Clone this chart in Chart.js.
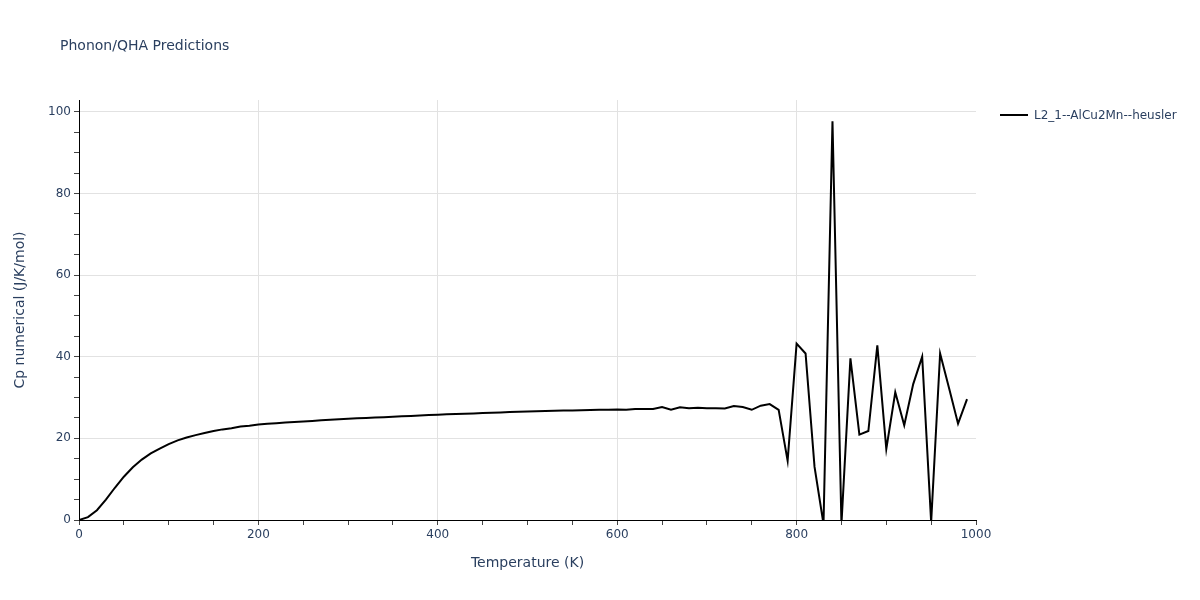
<!DOCTYPE html>
<html>
<head>
<meta charset="utf-8">
<script src="https://cdn.jsdelivr.net/npm/chart.js@4.4.1/dist/chart.umd.min.js"></script>
<style>
  html, body { margin: 0; padding: 0; background: #fff; }
  #wrap { position: relative; width: 1200px; height: 600px; font-family: "DejaVu Sans", Verdana, sans-serif; }
  #title { position: absolute; left: 60px; top: 35px; font-size: 14px; line-height: 20px; color: #2a3f5f; white-space: nowrap; }
  #legend { position: absolute; left: 1000px; top: 106px; height: 18px; display: flex; align-items: center; font-size: 12px; color: #2a3f5f; white-space: nowrap; }
  #legend .swatch { width: 28px; height: 0; border-top: 2px solid #000; margin-right: 6px; }
  canvas { position: absolute; left: 0; top: 0; }
</style>
</head>
<body>
<div id="wrap">
  <canvas id="c" width="1200" height="600"></canvas>
  <div id="title">Phonon/QHA Predictions</div>
  <div id="legend"><div class="swatch"></div><span id="legendText"></span></div>
</div>
<script>
const chartTitle = "Phonon/QHA Predictions";
const seriesName = "L2_1--AlCu2Mn--heusler";
const xAxisTitle = "Temperature (K)";
const yAxisTitle = "Cp numerical (J/K/mol)";

const temperatures = [
  0, 10, 20, 30, 40, 50, 60, 70, 80, 90,
  100, 110, 120, 130, 140, 150, 160, 170, 180, 190,
  200, 210, 220, 230, 240, 250, 260, 270, 280, 290,
  300, 310, 320, 330, 340, 350, 360, 370, 380, 390,
  400, 410, 420, 430, 440, 450, 460, 470, 480, 490,
  500, 510, 520, 530, 540, 550, 560, 570, 580, 590,
  600, 610, 620, 630, 640, 650, 660, 670, 680, 690,
  700, 710, 720, 730, 740, 750, 760, 770, 780, 790,
  800, 810, 820, 830, 840, 850, 860, 870, 880, 890,
  900, 910, 920, 930, 940, 950, 960, 970, 980, 990
];
const cpValues = [
  0, 0.7, 2.4, 5.0, 7.9, 10.6, 12.9, 14.8, 16.3, 17.5,
  18.6, 19.5, 20.2, 20.8, 21.3, 21.8, 22.2, 22.5, 22.9, 23.1,
  23.4, 23.56, 23.71, 23.86, 24.0, 24.14, 24.28, 24.41, 24.54, 24.67,
  24.8, 24.9, 25.0, 25.1, 25.2, 25.3, 25.4, 25.5, 25.6, 25.7,
  25.8, 25.88, 25.96, 26.04, 26.12, 26.2, 26.28, 26.36, 26.44, 26.52,
  26.6, 26.65, 26.7, 26.75, 26.8, 26.85, 26.9, 26.95, 27.0, 27.0,
  27.1, 27.0, 27.2, 27.2, 27.2, 27.7, 27.0, 27.6, 27.4, 27.5,
  27.4, 27.4, 27.3, 27.9, 27.7, 27.0, 28.0, 28.4, 27.0, 14.5,
  43.2, 40.8, 13.0, -1.0, 97.7, -1.0, 39.6, 20.9, 21.8, 42.8,
  17.4, 31.3, 23.2, 33.3, 40.0, -0.5, 40.8, 32.3, 23.6, 29.6
];
const xLabelTicks = [0, 200, 400, 600, 800, 1000];
const yLabelTicks = [0, 20, 40, 60, 80, 100];

document.getElementById('title').textContent = chartTitle;
document.getElementById('legendText').textContent = seriesName;

const textColor = '#2a3f5f';
const gridColor = '#e2e2e2';
const fontFamily = '"DejaVu Sans", Verdana, sans-serif';

const points = temperatures.map((t, i) => ({ x: t, y: cpValues[i] }));

new Chart(document.getElementById('c'), {
  type: 'line',
  data: {
    datasets: [{
      label: seriesName,
      data: points,
      borderColor: '#000000',
      backgroundColor: '#000000',
      borderWidth: 2,
      pointRadius: 0,
      pointHoverRadius: 0,
      tension: 0,
      fill: false
    }]
  },
  options: {
    responsive: false,
    animation: false,
    events: [],
    layout: { padding: { top: 100, right: 224, bottom: 0, left: 0 } },
    plugins: { legend: { display: false }, title: { display: false }, tooltip: { enabled: false } },
    scales: {
      x: {
        type: 'linear',
        min: 0,
        max: 1000,
        afterFit: s => { s.height = 80; },
        border: { display: true, color: '#000000', width: 1 },
        grid: {
          color: ctx => (ctx.tick && xLabelTicks.includes(ctx.tick.value) && ctx.tick.value !== 0 && ctx.tick.value !== 1000) ? gridColor : 'rgba(0,0,0,0)',
          lineWidth: 1,
          drawTicks: true,
          tickLength: 5,
          tickColor: '#444444',
          tickWidth: 1
        },
        ticks: {
          stepSize: 50,
          autoSkip: false,
          maxRotation: 0,
          includeBounds: false,
          padding: 3,
          color: textColor,
          font: { family: fontFamily, size: 12 },
          callback: v => xLabelTicks.includes(v) ? String(v) : ''
        },
        title: {
          display: true,
          text: xAxisTitle,
          color: textColor,
          font: { family: fontFamily, size: 14 },
          padding: { top: 0, bottom: 28.6 }
        }
      },
      y: {
        type: 'linear',
        min: 0,
        max: 102.9,
        afterFit: s => { s.width = 79; },
        border: { display: true, color: '#000000', width: 1 },
        grid: {
          color: ctx => (ctx.tick && yLabelTicks.includes(ctx.tick.value) && ctx.tick.value !== 0) ? gridColor : 'rgba(0,0,0,0)',
          lineWidth: 1,
          drawTicks: true,
          tickLength: 5,
          tickColor: '#444444',
          tickWidth: 1
        },
        ticks: {
          stepSize: 5,
          autoSkip: false,
          includeBounds: false,
          padding: 3,
          color: textColor,
          font: { family: fontFamily, size: 12 },
          callback: v => yLabelTicks.includes(v) ? String(v) : ''
        },
        title: {
          display: true,
          text: yAxisTitle,
          color: textColor,
          font: { family: fontFamily, size: 14 },
          padding: { top: 11.6, bottom: 0 }
        }
      }
    }
  }
});
</script>
</body>
</html>
